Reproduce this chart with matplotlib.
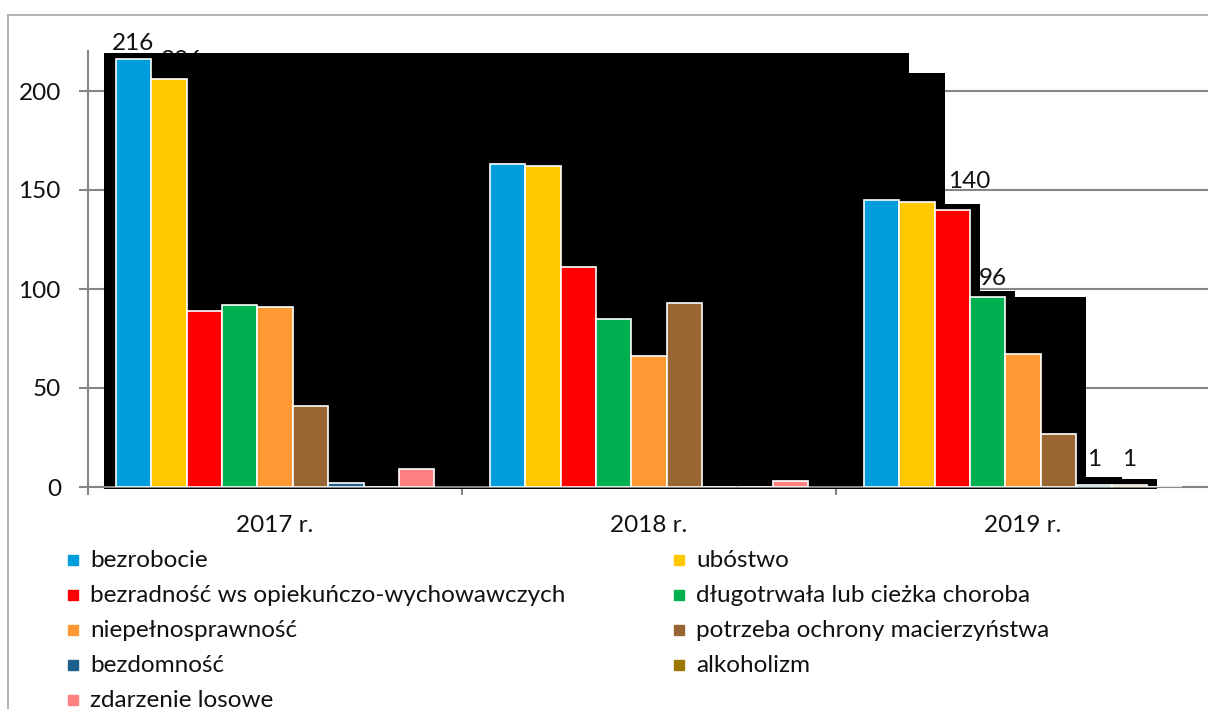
import matplotlib
matplotlib.use("Agg")
import matplotlib.pyplot as plt
import matplotlib.patches as mpatches
from matplotlib.lines import Line2D
import numpy as np

plt.rcParams['font.family'] = ['Lato', 'DejaVu Sans']

### Data
years = ['2017 r.', '2018 r.', '2019 r.']
series_names = ['bezrobocie', 'ubóstwo', 'bezradność ws opiekuńczo-wychowawczych',
                'długotrwała lub cieżka choroba', 'niepełnosprawność',
                'potrzeba ochrony macierzyństwa', 'bezdomność', 'alkoholizm',
                'zdarzenie losowe']
series_colors = ['#009DDC', '#FFC800', '#FF0000', '#00B050', '#FF9933',
                 '#996633', '#1F5F8B', '#9C7800', '#FF8080']

bezrobocie = [216, 163, 145]
ubostwo = [206, 162, 144]
bezradnosc = [89, 111, 140]
choroba = [92, 85, 96]
niepelnosprawnosc = [91, 66, 67]
macierzynstwo = [41, 93, 27]
bezdomnosc = [2, 0, 1]
alkoholizm = [0, 0, 1]
zdarzenie = [9, 3, 0]
values = [bezrobocie, ubostwo, bezradnosc, choroba, niepelnosprawnosc,
          macierzynstwo, bezdomnosc, alkoholizm, zdarzenie]

# data labels visible in the original: (series, year)
labelled = [(0, 0), (1, 0), (2, 2), (3, 2), (6, 2), (7, 2)]
# label offsets in pixels (dx, dy of baseline above bar top)
label_offsets = [(0, 9), (13, 12), (17, 22), (5, 12), (0, 19), (0, 19)]

# series casting the black shadow artefact
shadow_series = 8

### Figure
fig = plt.figure(figsize=(12.08, 7.09), dpi=100)
ax = fig.add_axes([88 / 1208, 1 - 487 / 709, 1122 / 1208, 435.6 / 709])
ax.set_xlim(-0.5, 2.5)
ax.set_ylim(0, 220)

n = len(values)
w = 35.4 / 374
px = 1 / 374  # one pixel in x data units
x = np.arange(len(years))
grey = '#868686'
txt = '#111111'

for i, vals in enumerate(values):
    ax.bar(x + (i - (n - 1) / 2) * w, vals, width=w, color=series_colors[i],
           edgecolor='white', linewidth=1.2, zorder=3)

# black shadow (step shape from series maxima)
left = x[0] - n / 2 * w - 12 * px
maxes = [max(v) + 3 for v in values[:shadow_series]]
rights = [x[-1] + (i - (n - 1) / 2) * w + w / 2 + 10 * px for i in range(shadow_series)]
px_poly = [left]
py_poly = [-1]
cur_x = left
for k in range(shadow_series):
    h = max(maxes[k:])
    px_poly += [cur_x, rights[k]]
    py_poly += [h, h]
    cur_x = rights[k]
px_poly += [cur_x]
py_poly += [-1]
ax.fill(px_poly, py_poly, color='black', zorder=2, clip_on=False, linewidth=0)

# data labels
for (s, yr), (dx, dy) in zip(labelled, label_offsets):
    xc = x[yr] + (s - (n - 1) / 2) * w
    ax.annotate(str(values[s][yr]), xy=(xc, values[s][yr]), xytext=(dx, dy),
                textcoords='offset pixels', ha='center', va='baseline',
                fontsize=17.5, color=txt, zorder=1, annotation_clip=False)

# axes styling
ax.set_yticks([0, 50, 100, 150, 200])
ax.tick_params(axis='y', length=6.5, width=1.5, color=grey, pad=13,
               labelsize=17.5, labelcolor=txt)
ax.set_xticks([-0.5, 0.5, 1.5, 2.5])
ax.set_xticklabels([])
ax.set_xticks(x, minor=True)
ax.set_xticklabels(years, minor=True)
ax.tick_params(axis='x', which='major', length=5.8, width=1.5, color=grey)
ax.tick_params(axis='x', which='minor', length=0, pad=20, labelsize=17.5, labelcolor=txt)
ax.grid(axis='y', color=grey, linewidth=1.5, zorder=0.5)
ax.set_axisbelow(True)
for side in ['top', 'right']:
    ax.spines[side].set_visible(False)
for side in ['left', 'bottom']:
    ax.spines[side].set_color(grey)
    ax.spines[side].set_linewidth(1.5)
ax.spines['bottom'].set_zorder(2.5)

# legend, drawn by hand in two columns
for i, name in enumerate(series_names):
    row, col = divmod(i, 2)
    mx = [68, 674][col]
    yc = 560 + row * 35
    fig.add_artist(mpatches.Rectangle((mx / 1208, 1 - (yc + 5) / 709), 10 / 1208, 10 / 709,
                                      transform=fig.transFigure, color=series_colors[i]))
    fig.text((mx + 22) / 1208, 1 - (yc + 7) / 709, name, fontsize=17.5,
             color=txt, va='baseline', ha='left')

# outer frame
fig.add_artist(Line2D([7.7 / 1208, 1.01], [1 - 15 / 709] * 2, transform=fig.transFigure,
                      color='#A6A6A6', linewidth=1.2))
fig.add_artist(Line2D([7.7 / 1208] * 2, [-0.01, 1 - 15 / 709], transform=fig.transFigure,
                      color='#A6A6A6', linewidth=1.2))

fig.savefig('out.png', dpi=100)
